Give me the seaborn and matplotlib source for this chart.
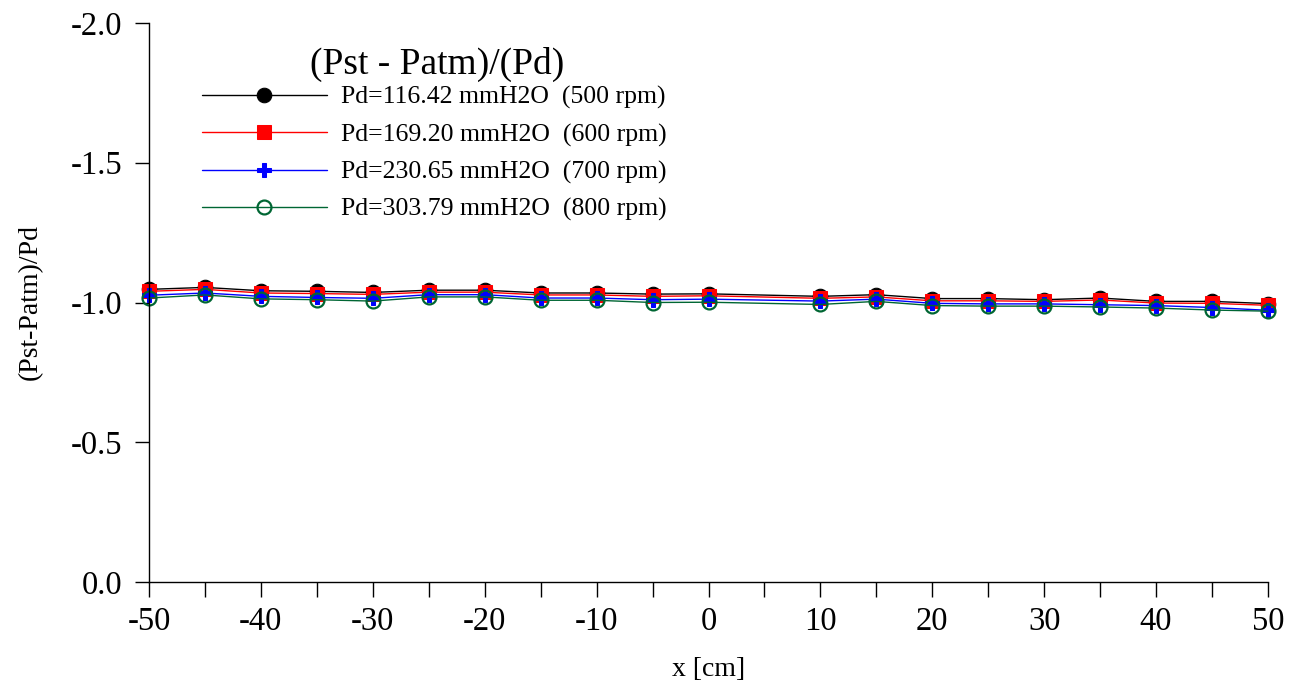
import numpy as np
import pandas as pd
import matplotlib
matplotlib.use("Agg")
import matplotlib.pyplot as plt
import seaborn as sns

# ---- data ----
x_cm = [-50, -45, -40, -35, -30, -25, -20, -15, -10, -5, 0,
        10, 15, 20, 25, 30, 35, 40, 45, 50]
rpm500 = [-1.047, -1.054, -1.042, -1.040, -1.036, -1.044, -1.044, -1.034, -1.034, -1.030, -1.031,
          -1.022, -1.028, -1.014, -1.014, -1.010, -1.016, -1.004, -1.004, -0.996]
rpm600 = [-1.040, -1.047, -1.034, -1.032, -1.029, -1.037, -1.037, -1.027, -1.027, -1.022, -1.024,
          -1.015, -1.020, -1.006, -1.006, -1.004, -1.009, -0.998, -0.997, -0.990]
rpm700 = [-1.026, -1.034, -1.022, -1.018, -1.015, -1.028, -1.028, -1.016, -1.016, -1.010, -1.012,
          -1.005, -1.012, -0.997, -0.995, -0.995, -0.992, -0.989, -0.982, -0.972]
rpm800 = [-1.016, -1.027, -1.013, -1.010, -1.005, -1.020, -1.020, -1.008, -1.008, -1.000, -1.001,
          -0.993, -1.004, -0.989, -0.987, -0.987, -0.984, -0.980, -0.973, -0.969]
labels = ["Pd=116.42 mmH2O  (500 rpm)", "Pd=169.20 mmH2O  (600 rpm)",
          "Pd=230.65 mmH2O  (700 rpm)", "Pd=303.79 mmH2O  (800 rpm)"]
legend_title = "(Pst - Patm)/(Pd)"
y_ticks = [0.0, -0.5, -1.0, -1.5, -2.0]
x_ticks = [-50, -40, -30, -20, -10, 0, 10, 20, 30, 40, 50]

sns.set_style("ticks")
plt.rcParams["font.family"] = ["Liberation Serif", "DejaVu Serif"]
plt.rcParams["axes.unicode_minus"] = False
for k in ["text.color", "axes.labelcolor", "xtick.color", "ytick.color", "axes.edgecolor"]:
    plt.rcParams[k] = "black"

fig = plt.figure(figsize=(13.01, 6.84), dpi=100)
ax = fig.add_axes([149 / 1301, 1 - 582 / 684, (1268 - 149) / 1301, (582 - 23) / 684])

styles = [
    dict(color="black", marker="o", markersize=10.5, markerfacecolor="black", markeredgecolor="black"),
    dict(color="#ff0000", marker="s", markersize=10, markerfacecolor="#ff0000", markeredgecolor="#ff0000"),
    dict(color="#0000ff", marker="P", markersize=10, markerfacecolor="#0000ff", markeredgecolor="#0000ff"),
    dict(color="#006633", marker="o", markersize=10, markerfacecolor="none", markeredgecolor="#006633",
         markeredgewidth=1.6),
]
for vals, lab, st in zip([rpm500, rpm600, rpm700, rpm800], labels, styles):
    df = pd.DataFrame({"x": x_cm, "y": vals})
    sns.lineplot(data=df, x="x", y="y", ax=ax, label=lab, linewidth=1.0, clip_on=False, **st)

ax.set_xlim(-50, 50)
ax.set_ylim(0, -2.0)
ax.set_xticks(x_ticks)
ax.set_xticklabels([str(v) for v in x_ticks])
ax.set_xticks(list(range(-45, 50, 10)), minor=True)
ax.set_yticks(y_ticks)
ax.set_yticklabels([f"{v:.1f}" for v in y_ticks])
ax.tick_params(axis="both", which="both", direction="out", width=1.0, color="black")
ax.tick_params(axis="x", which="both", length=11, pad=7, labelsize=23.5)
ax.tick_params(axis="y", which="major", length=10, pad=9, labelsize=23.5)
for s in ["top", "right"]:
    ax.spines[s].set_visible(False)
for s in ["left", "bottom"]:
    ax.spines[s].set_color("black")
    ax.spines[s].set_linewidth(1.0)

ax.set_xlabel("x [cm]", fontsize=20, labelpad=14)
ax.set_ylabel("(Pst-Patm)/Pd", fontsize=20, labelpad=20)

leg = ax.legend(loc="upper left", bbox_to_anchor=(202 / 1301, 1 - 86 / 684),
                bbox_transform=fig.transFigure, frameon=False, fontsize=18.5,
                handlelength=4.85, handletextpad=0.55, labelspacing=0.54,
                borderpad=0, borderaxespad=0)
fig.text(437 / 1301, 1 - 64 / 684, legend_title, fontsize=27, ha="center", va="center")

fig.savefig("out.png", dpi=100, facecolor="white")
